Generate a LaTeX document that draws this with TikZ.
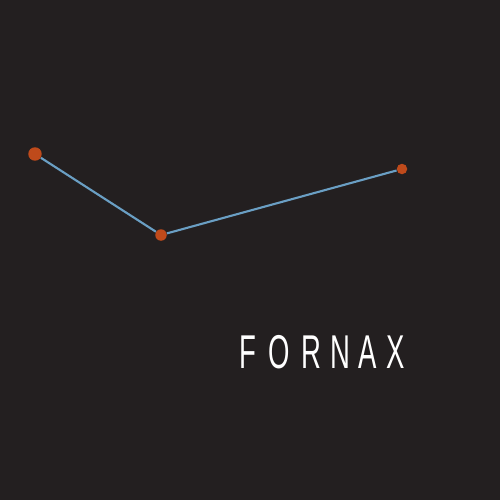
\documentclass[tikz,border=0pt]{standalone}
\usepackage{fontspec}
\setmainfont{Liberation Sans}
\definecolor{bg}{HTML}{231F20}
\definecolor{star}{HTML}{BF4A1B}
\definecolor{link}{HTML}{6A9FC4}
\newcommand{\narrowletter}[1]{\scalebox{0.58}[1]{\fontsize{27}{27}\selectfont #1}}
\begin{document}
\begin{tikzpicture}[x=0.02cm,y=-0.02cm,
  starnode/.style={circle,fill=star,inner sep=0pt,minimum size=#1},
  letter/.style={text=white,anchor=base,inner sep=0pt},
  link/.style={draw=link,line width=1.2pt}]
\fill[bg] (0,0) rectangle (500,500);
\useasboundingbox (0,0) rectangle (500,500);
\node[starnode=0.27cm] (s1) at (35,154) {};
\node[starnode=0.23cm] (s2) at (161,235) {};
\node[starnode=0.21cm] (s3) at (402,169) {};
\draw[link] (s1) -- (s2) -- (s3);
\node[letter] (l1) at (247.5,368) {\narrowletter{F}};
\node[letter] (l2) at (279.5,368) {\narrowletter{O}};
\node[letter] (l3) at (311.5,368) {\narrowletter{R}};
\node[letter] (l4) at (340.5,368) {\narrowletter{N}};
\node[letter] (l5) at (368,368) {\narrowletter{A}};
\node[letter] (l6) at (396,368) {\narrowletter{X}};
\end{tikzpicture}
\end{document}
